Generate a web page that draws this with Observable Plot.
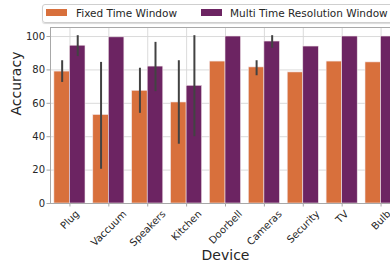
<!DOCTYPE html>
<html>
<head>
<meta charset="utf-8">
<script src="https://cdn.jsdelivr.net/npm/d3@7"></script>
<script src="https://cdn.jsdelivr.net/npm/@observablehq/plot@0.6"></script>
<style>
  html, body { margin: 0; padding: 0; background: #fff; overflow: hidden; width: 390px; height: 270px; }
  #wrap { position: relative; width: 400px; height: 270px; font-family: "DejaVu Sans", sans-serif; }
  #legend { position: absolute; left: 42px; top: 4px; width: 380px; height: 17px; border: 1px solid #cfcfcf; border-radius: 3px; background: rgba(255,255,255,0.85); font-size: 10.5px; color: #262626; box-shadow: 0 1px 1px rgba(0,0,0,0.15); }
  .sw { position: absolute; top: 4px; width: 21px; height: 7px; }
  .lt { position: absolute; top: 1.5px; white-space: nowrap; }
</style>
</head>
<body>
<div id="wrap">
  <div id="chart"></div>
  <div id="legend"></div>
</div>
<script>
const devices = ["Plug", "Vaccuum", "Speakers", "Kitchen", "Doorbell", "Cameras", "Security", "TV", "Bulb"];
const seriesNames = ["Fixed Time Window", "Multi Time Resolution Window"];
const seriesColors = ["#d8703c", "#6c2462"];
const fixedValues = [79, 53, 67.5, 60.5, 85, 81.5, 78.5, 85, 84.5];
const fixedLow    = [72.5, 20.5, 54, 35.5, null, 76.5, null, null, null];
const fixedHigh   = [85.5, 84.5, 81, 85.5, null, 85.5, null, null, null];
const multiValues = [94.5, 99.5, 82, 70.5, 100, 97, 94, 100, 100];
const multiLow    = [88, null, 67, 40, null, 93, null, null, null];
const multiHigh   = [100.5, null, 96.5, 100.5, null, 100.5, null, null, null];
const yTicks = [0, 20, 40, 60, 80, 100];

const barWidth = 0.4;
const rows = [];
devices.forEach((d, i) => {
  rows.push({device: d, i, series: seriesNames[0], x1: i - barWidth, x2: i, xc: i - barWidth / 2, value: fixedValues[i], lo: fixedLow[i], hi: fixedHigh[i]});
  rows.push({device: d, i, series: seriesNames[1], x1: i, x2: i + barWidth, xc: i + barWidth / 2, value: multiValues[i], lo: multiLow[i], hi: multiHigh[i]});
});
const errRows = rows.filter(r => r.lo != null);

// rotated tick labels, centred on the tick like matplotlib (rotation=45, ha="center")
const ctx = document.createElement("canvas").getContext("2d");
ctx.font = "10px 'DejaVu Sans'";
const labelH = 9.5;
const tickLabelMarks = devices.map((d, i) => {
  const w = ctx.measureText(d).width;
  const half = (w + labelH) * Math.SQRT1_2 / 2;
  return Plot.text([d], {x: () => i, y: () => 0, text: t => t, rotate: -45, textAnchor: "middle", lineAnchor: "middle", dy: 5.5 + half, fontSize: 10, fill: "#262626"});
});

const chart = Plot.plot({
  width: 400,
  height: 270,
  marginLeft: 50,
  marginRight: 0,
  marginTop: 27,
  marginBottom: 67,
  style: {fontFamily: "DejaVu Sans, sans-serif", fontSize: "10px", color: "#262626", background: "transparent", overflow: "visible"},
  x: {domain: [-0.5, devices.length - 0.5], axis: null},
  y: {domain: [0, 105.4], axis: null},
  color: {domain: seriesNames, range: seriesColors},
  marks: [
    Plot.gridY(yTicks, {stroke: "#d6d6d6", strokeOpacity: 1, strokeWidth: 0.9}),
    Plot.gridX(d3.range(devices.length), {stroke: "#d6d6d6", strokeOpacity: 1, strokeWidth: 0.9}),
    Plot.rectY(rows, {x1: "x1", x2: "x2", y1: 0, y2: "value", fill: "series", stroke: "#f2e6ea", strokeWidth: 0.6}),
    Plot.ruleX(errRows, {x: "xc", y1: "lo", y2: "hi", stroke: "#424242", strokeWidth: 2}),
    Plot.frame({stroke: "#a8a8a8", strokeWidth: 1}),
    Plot.axisY(yTicks, {tickSize: 3.5, tickPadding: 2, fontSize: 10, stroke: "#a8a8a8", label: null, fill: "#262626"}),
    Plot.axisX(d3.range(devices.length), {tickSize: 3.5, stroke: "#a8a8a8", label: null, text: null}),
    ...tickLabelMarks,
    Plot.text(["Device"], {frameAnchor: "bottom", dy: 56, fontSize: 14, fill: "#262626"}),
    Plot.text(["Accuracy"], {frameAnchor: "left", dx: -34, rotate: -90, fontSize: 14, fill: "#262626"})
  ]
});
document.getElementById("chart").appendChild(chart);

const legend = document.getElementById("legend");
const swX = [3, 158];
const txX = [33, 187];
seriesNames.forEach((s, k) => {
  const sw = document.createElement("div");
  sw.className = "sw";
  sw.style.left = swX[k] + "px";
  sw.style.background = seriesColors[k];
  legend.appendChild(sw);
  const t = document.createElement("div");
  t.className = "lt";
  t.style.left = txX[k] + "px";
  t.textContent = s;
  legend.appendChild(t);
});
</script>
</body>
</html>
